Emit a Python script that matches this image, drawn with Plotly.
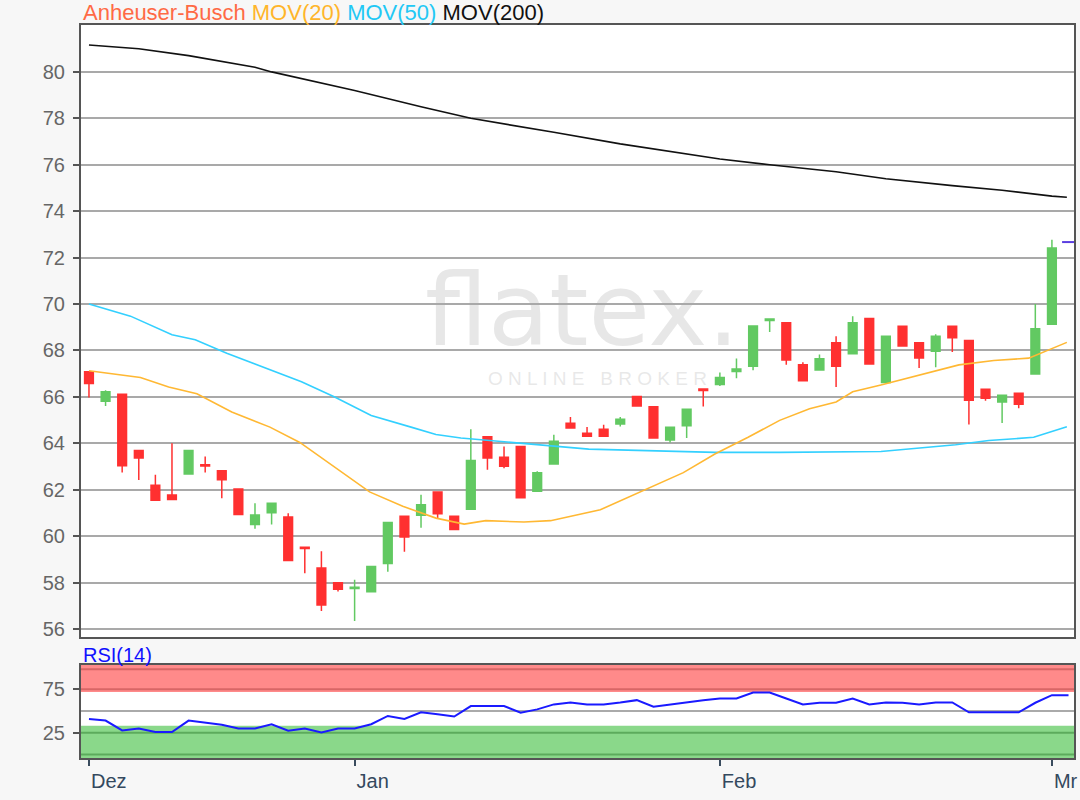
import plotly.graph_objects as go

# ---------------- data ----------------
day_idx = list(range(59))
opens = [67.08, 65.81, 66.12, 63.69, 62.20, 61.78, 62.68, 63.08, 62.82, 62.03,
         60.51, 61.01, 60.83, 59.53, 58.63, 58.00, 57.75, 57.61, 58.83, 60.86,
         60.90, 61.90, 60.86, 61.16, 64.29, 63.40, 63.86, 61.94, 63.11, 64.87,
         64.44, 64.61, 64.83, 66.02, 65.58, 64.14, 64.76, 66.34, 66.53, 67.10,
         67.32, 69.29, 69.20, 67.39, 67.16, 68.33, 67.86, 69.38, 66.62, 69.04,
         68.33, 67.97, 69.04, 68.43, 66.33, 65.78, 66.16, 66.99, 69.13]
highs = [67.10, 66.29, 66.12, 63.69, 62.65, 64.00, 63.69, 63.43, 62.82, 62.03,
         61.42, 61.42, 60.99, 59.53, 59.35, 58.00, 58.12, 58.70, 60.59, 60.86,
         61.79, 61.90, 60.86, 64.61, 64.29, 63.86, 63.86, 62.80, 64.37, 65.14,
         64.70, 64.80, 65.14, 66.02, 65.58, 64.69, 65.47, 66.34, 67.05, 67.65,
         69.05, 69.36, 69.20, 67.49, 67.83, 68.61, 69.48, 69.38, 68.61, 69.04,
         68.33, 68.70, 69.04, 68.43, 66.33, 66.07, 66.16, 70.00, 72.77]
lows = [65.97, 65.61, 62.75, 62.42, 61.55, 61.55, 62.68, 62.75, 61.64, 60.94,
        60.32, 60.51, 58.95, 58.41, 56.78, 57.62, 56.35, 57.61, 58.47, 59.33,
        60.37, 60.76, 60.29, 61.16, 62.86, 62.93, 61.66, 61.94, 63.11, 64.66,
        64.31, 64.31, 64.73, 65.61, 64.23, 64.04, 64.23, 65.59, 66.47, 66.80,
        67.15, 68.80, 67.39, 66.70, 67.16, 66.43, 67.86, 67.42, 66.62, 68.19,
        67.25, 67.28, 67.93, 64.81, 65.83, 64.88, 65.51, 66.99, 69.13]
closes = [66.58, 66.22, 63.04, 63.37, 61.55, 61.58, 63.69, 63.02, 62.43, 60.94,
          60.91, 61.42, 58.95, 59.47, 57.04, 57.72, 57.80, 58.70, 60.59, 59.97,
          61.36, 60.97, 60.29, 63.26, 63.37, 63.01, 61.66, 62.73, 64.09, 64.66,
          64.31, 64.31, 65.04, 65.61, 64.23, 64.69, 65.47, 66.28, 66.84, 67.20,
          69.05, 69.36, 67.59, 66.70, 67.64, 67.32, 69.20, 67.42, 68.61, 68.19,
          67.68, 68.61, 68.55, 65.86, 65.94, 66.07, 65.68, 68.94, 72.42]
last_price = 72.67

ma20_idx = [0, 3.1, 4.8, 6.5, 8.6, 10.9, 12.7, 14.8, 16.9, 18.9, 20.9, 22.6, 23.9,
            26.2, 27.8, 30.8, 33.1, 35.8, 37.7, 39.7, 41.6, 43.4, 45.0, 46.0, 47.7,
            50.0, 52.4, 54.5, 56.6, 58.9]
ma20 = [67.13, 66.84, 66.43, 66.14, 65.35, 64.70, 64.04, 62.96, 61.91, 61.29, 60.78,
        60.52, 60.67, 60.61, 60.67, 61.14, 61.87, 62.74, 63.54, 64.26, 64.99, 65.49,
        65.78, 66.22, 66.51, 66.94, 67.38, 67.57, 67.67, 68.35]

ma50_idx = [0, 2.5, 5.0, 6.4, 8.3, 10.9, 12.8, 14.8, 17.0, 19.4, 20.9, 22.4, 26.2,
            30.1, 37.7, 41.6, 47.7, 52.2, 54.2, 56.9, 58.9]
ma50 = [70.00, 69.48, 68.68, 68.46, 67.88, 67.16, 66.65, 66.00, 65.20, 64.70, 64.38,
        64.23, 64.00, 63.75, 63.61, 63.61, 63.65, 63.94, 64.12, 64.26, 64.72]

ma200_idx = [0, 3, 6, 10, 11, 16, 20, 23, 28, 32, 38, 41, 45, 48, 52, 55, 58, 58.9]
ma200 = [81.16, 81.00, 80.70, 80.20, 80.00, 79.20, 78.50, 78.00, 77.40, 76.90, 76.25,
         76.00, 75.70, 75.40, 75.10, 74.90, 74.65, 74.60]

rsi_idx = list(range(60))
rsi = [40.9, 39.0, 27.7, 29.9, 25.8, 25.8, 39.0, 36.7, 34.1, 29.9,
       29.9, 34.8, 27.3, 29.9, 25.4, 29.9, 29.9, 34.8, 44.3, 40.9,
       48.5, 46.2, 43.6, 55.7, 55.7, 55.7, 48.1, 51.9, 57.6, 59.8,
       57.6, 57.6, 59.8, 62.5, 54.9, 57.6, 60.2, 62.5, 64.4, 64.4,
       71.2, 71.2, 64.4, 57.6, 59.5, 59.5, 64.4, 57.6, 59.8, 59.5,
       57.6, 59.8, 59.8, 48.5, 48.5, 48.5, 48.5, 59.5, 68.2, 68.2]

month_ticks = [0, 16, 38, 58]
month_labels = ["Dez", "Jan", "Feb", "Mr"]
price_ticks = [56, 58, 60, 62, 64, 66, 68, 70, 72, 74, 76, 78, 80]
rsi_ticks = [25, 75]

# ---------------- figure ----------------
FONT = "Liberation Sans, Arial, sans-serif"
fig = go.Figure()

fig.add_trace(go.Scatter(x=ma200_idx, y=ma200, mode="lines",
                         line=dict(color="#111111", width=1.6), xaxis="x", yaxis="y",
                         hoverinfo="skip"))
fig.add_trace(go.Scatter(x=ma50_idx, y=ma50, mode="lines",
                         line=dict(color="#33d0ff", width=1.6), xaxis="x", yaxis="y",
                         hoverinfo="skip"))
fig.add_trace(go.Scatter(x=ma20_idx, y=ma20, mode="lines",
                         line=dict(color="#ffb833", width=1.6), xaxis="x", yaxis="y",
                         hoverinfo="skip"))
fig.add_trace(go.Candlestick(
    x=day_idx, open=opens, high=highs, low=lows, close=closes,
    increasing=dict(fillcolor="#62c962", line=dict(color="#62c962", width=1.5)),
    decreasing=dict(fillcolor="#ff3030", line=dict(color="#ff3030", width=1.5)),
    whiskerwidth=0, xaxis="x", yaxis="y"))

fig.add_trace(go.Scatter(x=rsi_idx, y=rsi, mode="lines",
                         line=dict(color="#1a1aff", width=2), xaxis="x2", yaxis="y2",
                         hoverinfo="skip"))

x_range = [-0.48, 59.33]
border = "#555555"

shapes = [
    dict(type="rect", xref="x2 domain", yref="y2", x0=0, x1=1, y0=72, y1=103,
         fillcolor="#ff8a8a", line=dict(width=0), layer="below"),
    dict(type="rect", xref="x2 domain", yref="y2", x0=0, x1=1, y0=-4.1, y1=33,
         fillcolor="#8ad88a", line=dict(width=0), layer="below"),
    dict(type="line", xref="x2 domain", yref="y2", x0=0, x1=1, y0=75, y1=75,
         line=dict(color="#d86666", width=2), layer="below"),
    dict(type="line", xref="x2 domain", yref="y2", x0=0, x1=1, y0=98, y1=98,
         line=dict(color="#d86666", width=2), layer="below"),
    dict(type="line", xref="x2 domain", yref="y2", x0=0, x1=1, y0=25, y1=25,
         line=dict(color="#5cab5c", width=2), layer="below"),
    dict(type="line", xref="x2 domain", yref="y2", x0=0, x1=1, y0=0, y1=0,
         line=dict(color="#5cab5c", width=2), layer="below"),
    dict(type="line", xref="x2 domain", yref="y2", x0=0, x1=1, y0=50, y1=50,
         line=dict(color="#aaaaaa", width=2), layer="below"),
    dict(type="line", xref="x domain", yref="y", x0=0.988, x1=1.0,
         y0=last_price, y1=last_price, line=dict(color="#5a3ee0", width=2)),
]

annotations = [
    dict(xref="paper", yref="paper", x=0.0, y=1.0164, xanchor="left", yanchor="middle",
         showarrow=False,
         text=("<span style='color:#ff6a45'>Anheuser-Busch</span> "
               "<span style='color:#ffb52a'>MOV(20)</span> "
               "<span style='color:#22c8f5'>MOV(50)</span> "
               "<span style='color:#111111'>MOV(200)</span>"),
         font=dict(family=FONT, size=22)),
    dict(xref="paper", yref="paper", x=0.0, y=0.1405, xanchor="left", yanchor="middle",
         showarrow=False, text="RSI(14)", font=dict(family=FONT, size=20, color="#1010ff")),
    dict(xref="paper", yref="paper", x=0.505, y=0.61, xanchor="center", yanchor="middle",
         showarrow=False, text="flatex.",
         font=dict(family="DejaVu Sans, sans-serif", size=100, color="rgba(170,170,170,0.28)")),
    dict(xref="paper", yref="paper", x=0.52, y=0.518, xanchor="center", yanchor="middle",
         showarrow=False, text="O N L I N E&nbsp;&nbsp;&nbsp;B R O K E R",
         font=dict(family=FONT, size=19, color="rgba(190,190,190,0.35)")),
]

fig.update_layout(
    width=1080, height=800,
    margin=dict(l=81, r=2, t=25, b=42),
    paper_bgcolor="#f7f7f7", plot_bgcolor="#ffffff",
    showlegend=False, boxgap=0.25,
    font=dict(family=FONT, size=20, color="#666666"),
    xaxis=dict(domain=[0, 1], anchor="y", range=x_range, showticklabels=False,
               showgrid=False, zeroline=False, ticks="", rangeslider=dict(visible=False),
               showline=True, linecolor=border, linewidth=2, mirror=True),
    yaxis=dict(domain=[0.1651, 1.0], anchor="x", range=[55.66, 82.02],
               tickvals=price_ticks, showgrid=True, gridcolor="#a9a9a9", gridwidth=2,
               zeroline=False, ticks="outside", ticklen=6, tickcolor=border, tickwidth=2,
               tickfont=dict(family=FONT, size=20, color="#666666"),
               showline=True, linecolor=border, linewidth=2, mirror=True,
               ticklabelstandoff=4),
    xaxis2=dict(domain=[0, 1], anchor="y2", range=x_range, matches="x",
                tickvals=month_ticks, ticktext=month_labels, showgrid=False, zeroline=False,
                ticks="outside", ticklen=6, tickcolor="#3a4c5e", tickwidth=2,
                ticklabelposition="outside right", ticklabelstandoff=4,
                tickfont=dict(family=FONT, size=20, color="#34495e"),
                showline=True, linecolor=border, linewidth=2, mirror=True),
    yaxis2=dict(domain=[0, 0.1269], anchor="x2", range=[-4.1, 103], tickvals=rsi_ticks,
                showgrid=False, zeroline=False, ticks="outside", ticklen=6,
                tickcolor=border, tickwidth=2,
                tickfont=dict(family=FONT, size=20, color="#666666"),
                showline=True, linecolor=border, linewidth=2, mirror=True,
                ticklabelstandoff=4),
    shapes=shapes, annotations=annotations,
)

fig.write_html("out.html", config={"displayModeBar": False},
               post_script="document.body.style.margin='0';document.body.style.overflow='hidden';")
